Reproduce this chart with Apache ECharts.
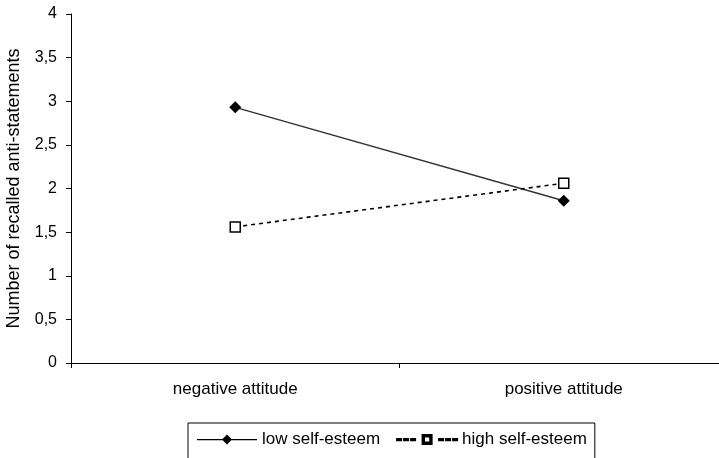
<!DOCTYPE html>
<html><head><meta charset="utf-8">
<script src="https://cdn.jsdelivr.net/npm/echarts@6/dist/echarts.min.js"></script>
<style>html,body{margin:0;padding:0;background:#fff;}#c{width:719px;height:458px;}</style>
</head><body><div id="c"></div>
<script>
const categories = ['negative attitude', 'positive attitude'];
const lowSelfEsteem = [2.93, 1.86];
const highSelfEsteem = [1.56, 2.06];
const yTicks = [0, 0.5, 1, 1.5, 2, 2.5, 3, 3.5, 4];

const lowIcon = 'path://M0 4.5H60V5.8H0Z M30 0L35 5L30 10L25 5Z';
const highIcon = 'path://M0 4.5H4V5.8H0Z M7 4.5H11V5.8H7Z M14 4.5H18V5.8H14Z M42 4.5H46V5.8H42Z M49 4.5H53V5.8H49Z M56 4.5H60V5.8H56Z M25.5 0.5H34.5V1.9H25.5Z M25.5 8.1H34.5V9.5H25.5Z M25.5 0.5H26.9V9.5H25.5Z M33.1 0.5H34.5V9.5H33.1Z';

const chart = echarts.init(document.getElementById('c'));
chart.setOption({
  animation: false,
  textStyle: {fontFamily: 'Liberation Sans, Arial, sans-serif'},
  grid: {left: 71, top: 14, width: 657, bottom: 95, containLabel: false, outerBoundsMode: 'none'},
  xAxis: {
    type: 'category', data: categories, boundaryGap: true,
    axisLine: {lineStyle: {color: '#000', width: 1}},
    axisTick: {show: true, length: 5, inside: false, lineStyle: {color: '#000'}},
    axisLabel: {color: '#000', fontSize: 17, margin: 18}
  },
  yAxis: {
    type: 'value', min: 0, max: 4, interval: 0.5,
    name: 'Number of recalled anti-statements', nameLocation: 'middle', nameGap: 48,
    nameTextStyle: {fontSize: 18, color: '#000'},
    axisLine: {show: true, lineStyle: {color: '#000', width: 1}},
    axisTick: {show: true, length: 5, lineStyle: {color: '#000'}},
    splitLine: {show: false},
    axisLabel: {color: '#000', fontSize: 16, margin: 14,
      formatter: v => String(v).replace('.', ',')}
  },
  legend: {
    left: 188, top: 423, orient: 'horizontal',
    padding: [8, 8, 30, 9], itemGap: 16,
    borderColor: '#000', borderWidth: 1,
    itemWidth: 60, itemHeight: 10,
    textStyle: {fontSize: 17, color: '#000'},
    data: [
      {name: 'low self-esteem', icon: lowIcon, itemStyle: {color: '#000'}},
      {name: 'high self-esteem', icon: highIcon, itemStyle: {color: '#000'}}
    ]
  },
  series: [
    {name: 'low self-esteem', type: 'line', data: lowSelfEsteem,
     symbol: 'diamond', symbolSize: 12,
     lineStyle: {color: '#333', width: 1.5},
     itemStyle: {color: '#000', borderWidth: 0}},
    {name: 'high self-esteem', type: 'line', data: highSelfEsteem,
     symbol: 'rect', symbolSize: 10,
     lineStyle: {color: '#000', width: 1.6, type: [4, 4]},
     itemStyle: {color: '#fff', borderColor: '#000', borderWidth: 1.5}}
  ]
});
</script></body></html>
